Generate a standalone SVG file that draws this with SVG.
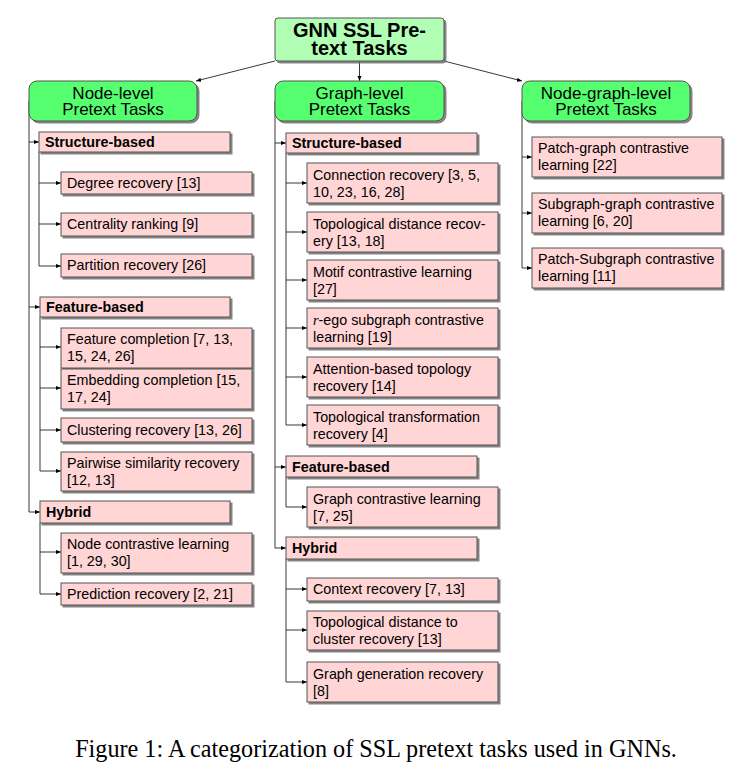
<svg xmlns="http://www.w3.org/2000/svg" width="742" height="765" viewBox="0 0 742 765">
<defs>
<filter id="ds" x="-10%" y="-20%" width="130%" height="150%"><feDropShadow dx="2" dy="2" stdDeviation="0.7" flood-color="#666" flood-opacity="0.8"/></filter>
<marker id="ah" viewBox="0 0 6 6" refX="6" refY="3" markerWidth="5" markerHeight="5" markerUnits="userSpaceOnUse" orient="auto"><path d="M0,0.6 L6,3 L0,5.4 Z" fill="#000"/></marker>
<style>
.root{fill:#b0ffb5;stroke:#555;stroke-width:1;filter:url(#ds)}
.lvl{fill:#55ff70;stroke:#555;stroke-width:1;filter:url(#ds)}
.box{fill:#ffd5d5;stroke:#555;stroke-width:1;filter:url(#ds)}
.t{font-family:"Liberation Sans",Arial,sans-serif;font-size:14.3px;fill:#000}
.b{font-family:"Liberation Sans",Arial,sans-serif;font-size:14.3px;font-weight:bold;fill:#000}
.lt{font-family:"Liberation Sans",Arial,sans-serif;font-size:17px;fill:#000;text-anchor:middle}
.rt{font-family:"Liberation Sans",Arial,sans-serif;font-size:20px;font-weight:bold;fill:#000;text-anchor:middle}
.cap{font-family:"Liberation Serif","Times New Roman",serif;font-size:24.2px;fill:#000;text-anchor:middle}
.c{fill:none;stroke:#222;stroke-width:0.9}
.a{fill:none;stroke:#222;stroke-width:0.9;marker-end:url(#ah)}
</style>
</defs>
<rect width="742" height="765" fill="#fff"/>
<g id="connectors">
<path class="a" d="M275,61 L196,81"/>
<path class="a" d="M359.5,61 L359.5,81"/>
<path class="a" d="M444,61 L522,81"/>
<path class="c" d="M29,101 L29,512"/>
<path class="a" d="M29,142 L39,142"/>
<path class="a" d="M29,307 L40,307"/>
<path class="a" d="M29,512 L40,512"/>
<path class="c" d="M39,152 L39,266"/>
<path class="a" d="M39,183 L61,183"/>
<path class="a" d="M39,224 L61,224"/>
<path class="a" d="M39,266 L61,266"/>
<path class="c" d="M40,317 L40,471"/>
<path class="a" d="M40,347 L61,347"/>
<path class="a" d="M40,388 L61,388"/>
<path class="a" d="M40,430 L61,430"/>
<path class="a" d="M40,471 L61,471"/>
<path class="c" d="M40,523 L40,594"/>
<path class="a" d="M40,552 L61,552"/>
<path class="a" d="M40,594 L61,594"/>
<path class="c" d="M275,101 L275,548"/>
<path class="a" d="M275,143 L286,143"/>
<path class="a" d="M275,467 L286,467"/>
<path class="a" d="M275,548 L286,548"/>
<path class="c" d="M286,153 L286,425"/>
<path class="a" d="M286,183 L307,183"/>
<path class="a" d="M286,232 L307,232"/>
<path class="a" d="M286,280 L307,280"/>
<path class="a" d="M286,328 L307,328"/>
<path class="a" d="M286,377 L307,377"/>
<path class="a" d="M286,425 L307,425"/>
<path class="c" d="M286,477 L286,507"/>
<path class="a" d="M286,507 L307,507"/>
<path class="c" d="M286,559 L286,682"/>
<path class="a" d="M286,589 L307,589"/>
<path class="a" d="M286,630 L307,630"/>
<path class="a" d="M286,682 L307,682"/>
<path class="c" d="M522,101 L522,268"/>
<path class="a" d="M522,157 L532,157"/>
<path class="a" d="M522,213 L532,213"/>
<path class="a" d="M522,268 L532,268"/>
</g>
<g id="root"><rect class="root" x="275" y="18" width="169" height="43" rx="3"/><text class="rt" x="359.5" y="37">GNN SSL Pre-</text><text class="rt" x="359.5" y="54.5">text Tasks</text></g>
<g id="node-level"><rect class="lvl" x="29" y="81" width="168" height="40" rx="8"/><text class="lt" x="113" y="99">Node-level</text><text class="lt" x="113" y="115">Pretext Tasks</text></g>
<g id="graph-level"><rect class="lvl" x="275" y="81" width="169" height="40" rx="8"/><text class="lt" x="359.5" y="99">Graph-level</text><text class="lt" x="359.5" y="115">Pretext Tasks</text></g>
<g id="node-graph-level"><rect class="lvl" x="522" y="81" width="168" height="40" rx="8"/><text class="lt" x="606" y="99">Node-graph-level</text><text class="lt" x="606" y="115">Pretext Tasks</text></g>
<g id="n-structure"><rect class="box" x="39" y="132" width="191" height="20"/><text class="b" x="45" y="147">Structure-based</text></g>
<g id="n-degree"><rect class="box" x="61" y="172" width="191" height="22"/><text class="t" x="67" y="188">Degree recovery [13]</text></g>
<g id="n-centrality"><rect class="box" x="61" y="213" width="191" height="23"/><text class="t" x="67" y="229">Centrality ranking [9]</text></g>
<g id="n-partition"><rect class="box" x="61" y="254" width="191" height="23"/><text class="t" x="67" y="270">Partition recovery [26]</text></g>
<g id="n-feature"><rect class="box" x="40" y="297" width="190" height="20"/><text class="b" x="46" y="312">Feature-based</text></g>
<g id="n-featcomp"><rect class="box" x="61" y="328" width="191" height="40"/><text class="t" x="67" y="344">Feature completion [7, 13,</text><text class="t" x="67" y="361">15, 24, 26]</text></g>
<g id="n-embcomp"><rect class="box" x="61" y="369" width="191" height="40"/><text class="t" x="67" y="385">Embedding completion [15,</text><text class="t" x="67" y="402">17, 24]</text></g>
<g id="n-cluster"><rect class="box" x="61" y="418" width="191" height="24"/><text class="t" x="67" y="435">Clustering recovery [13, 26]</text></g>
<g id="n-pairwise"><rect class="box" x="61" y="452" width="191" height="39"/><text class="t" x="67" y="468">Pairwise similarity recovery</text><text class="t" x="67" y="485">[12, 13]</text></g>
<g id="n-hybrid"><rect class="box" x="40" y="501" width="190" height="22"/><text class="b" x="46" y="517">Hybrid</text></g>
<g id="n-nodecontrast"><rect class="box" x="61" y="533" width="191" height="40"/><text class="t" x="67" y="549">Node contrastive learning</text><text class="t" x="67" y="566">[1, 29, 30]</text></g>
<g id="n-prediction"><rect class="box" x="61" y="583" width="191" height="22"/><text class="t" x="67" y="599">Prediction recovery [2, 21]</text></g>
<g id="g-structure"><rect class="box" x="286" y="133" width="191" height="20"/><text class="b" x="292" y="148">Structure-based</text></g>
<g id="g-connection"><rect class="box" x="307" y="163" width="191" height="40"/><text class="t" x="313" y="180">Connection recovery [3, 5,</text><text class="t" x="313" y="197">10, 23, 16, 28]</text></g>
<g id="g-topodist"><rect class="box" x="307" y="212" width="191" height="40"/><text class="t" x="313" y="229">Topological distance recov-</text><text class="t" x="313" y="246">ery [13, 18]</text></g>
<g id="g-motif"><rect class="box" x="307" y="260" width="191" height="40"/><text class="t" x="313" y="277">Motif contrastive learning</text><text class="t" x="313" y="294">[27]</text></g>
<g id="g-rego"><rect class="box" x="307" y="308" width="191" height="40"/><text class="t" x="313" y="325"><tspan font-family="Liberation Serif" font-style="italic">r</tspan>-ego subgraph contrastive</text><text class="t" x="313" y="342">learning [19]</text></g>
<g id="g-attention"><rect class="box" x="307" y="357" width="191" height="40"/><text class="t" x="313" y="374">Attention-based topology</text><text class="t" x="313" y="391">recovery [14]</text></g>
<g id="g-topotrans"><rect class="box" x="307" y="405" width="191" height="40"/><text class="t" x="313" y="422">Topological transformation</text><text class="t" x="313" y="439">recovery [4]</text></g>
<g id="g-feature"><rect class="box" x="286" y="456" width="191" height="21"/><text class="b" x="292" y="471.5">Feature-based</text></g>
<g id="g-graphcontrast"><rect class="box" x="307" y="487" width="191" height="40"/><text class="t" x="313" y="504">Graph contrastive learning</text><text class="t" x="313" y="521">[7, 25]</text></g>
<g id="g-hybrid"><rect class="box" x="286" y="537" width="191" height="22"/><text class="b" x="292" y="553">Hybrid</text></g>
<g id="g-context"><rect class="box" x="307" y="578" width="191" height="23"/><text class="t" x="313" y="594">Context recovery [7, 13]</text></g>
<g id="g-topocluster"><rect class="box" x="307" y="611" width="191" height="39"/><text class="t" x="313" y="627">Topological distance to</text><text class="t" x="313" y="644">cluster recovery [13]</text></g>
<g id="g-generation"><rect class="box" x="307" y="662" width="191" height="40"/><text class="t" x="313" y="679">Graph generation recovery</text><text class="t" x="313" y="696">[8]</text></g>
<g id="r-patchgraph"><rect class="box" x="532" y="137" width="190" height="40"/><text class="t" x="538" y="153">Patch-graph contrastive</text><text class="t" x="538" y="170">learning [22]</text></g>
<g id="r-subgraphgraph"><rect class="box" x="532" y="193" width="190" height="40"/><text class="t" x="538" y="209">Subgraph-graph contrastive</text><text class="t" x="538" y="226">learning [6, 20]</text></g>
<g id="r-patchsub"><rect class="box" x="532" y="248" width="190" height="40"/><text class="t" x="538" y="264">Patch-Subgraph contrastive</text><text class="t" x="538" y="281">learning [11]</text></g>
<text class="cap" x="376" y="757">Figure 1: A categorization of SSL pretext tasks used in GNNs.</text>
</svg>
